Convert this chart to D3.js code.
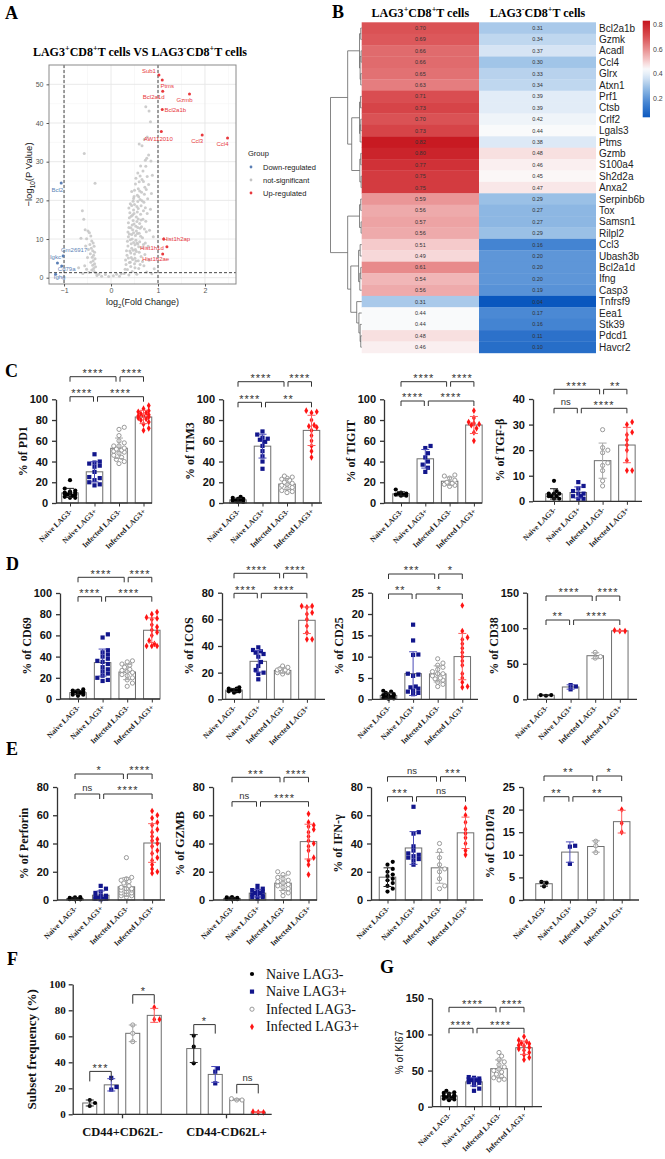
<!DOCTYPE html>
<html>
<head>
<meta charset="utf-8">
<script src="https://cdn.jsdelivr.net/npm/d3@7"></script>
<style>
  body { margin: 0; background: #fff; }
  svg { display: block; }
</style>
</head>
<body>
<svg id="fig" width="665" height="1159"></svg>
<script>
'use strict';

// ---------- data ----------
var groups = ['Naive LAG3-', 'Naive LAG3+', 'Infected LAG3-', 'Infected LAG3+'];

// volcano (log2FC, -log10 p)
var volcanoGray = [
  [-0.61,17.3],[-0.57,32.1],[-0.34,24.4],[-0.58,15.1],[-0.55,12.4],[-0.49,12.1],[-0.46,11.6],[-0.43,10.8],
  [-0.52,10.1],[-0.41,9.5],[-0.38,9.0],[-0.45,8.6],[-0.36,8.1],[-0.42,7.6],[-0.39,7.0],[-0.35,6.6],
  [-0.44,6.2],[-0.37,5.8],[-0.40,5.3],[-0.34,4.9],[-0.38,4.4],[-0.43,4.0],[-0.35,3.6],[-0.39,3.2],
  [-0.33,2.8],[-0.37,2.4],[-0.41,2.0],[-0.36,1.6],[-0.32,1.2],[-0.47,1.4],[-0.52,2.2],[-0.56,3.1],
  [-0.64,10.2],[-0.69,2.6],[-0.50,5.2],[-0.48,7.3],[-0.54,8.2],[-0.60,1.1],[-0.30,0.6],[-0.26,0.9],
  [-0.20,0.4],[-0.12,0.8],[-0.05,0.3],[0.05,0.5],[0.12,0.9],[0.18,0.4],[0.22,1.0],
  [0.28,1.1],[0.30,2.2],[0.32,3.4],[0.31,4.6],[0.34,5.8],[0.33,7.0],[0.36,8.2],[0.35,9.4],[0.37,10.6],
  [0.36,11.8],[0.38,13.0],[0.37,14.2],[0.39,15.5],[0.40,16.8],[0.38,18.0],[0.41,19.1],[0.42,2.9],
  [0.41,4.0],[0.43,5.2],[0.42,6.4],[0.44,7.6],[0.43,8.8],[0.45,10.0],[0.44,11.2],[0.46,12.4],
  [0.45,13.6],[0.47,14.8],[0.46,16.2],[0.48,17.5],[0.47,19.8],[0.49,21.0],[0.50,22.6],[0.52,24.2],
  [0.48,20.5],[0.50,3.6],[0.51,5.0],[0.50,6.1],[0.52,7.3],[0.51,8.5],[0.53,9.7],[0.52,10.9],
  [0.54,12.1],[0.53,13.3],[0.55,14.5],[0.54,15.7],[0.56,17.0],[0.55,18.4],[0.57,19.7],[0.56,21.3],
  [0.58,23.0],[0.60,24.8],[0.62,26.3],[0.59,2.4],[0.58,4.4],[0.60,6.6],[0.59,8.0],[0.61,9.3],
  [0.60,11.5],[0.62,12.8],[0.61,14.0],[0.63,16.4],[0.64,18.6],[0.62,20.2],[0.65,22.1],[0.66,25.4],
  [0.68,27.6],[0.64,5.5],[0.66,7.8],[0.67,10.3],[0.65,13.2],[0.68,15.1],[0.69,17.3],[0.70,19.5],
  [0.71,21.6],[0.72,23.4],[0.74,28.8],[0.76,30.9],[0.70,3.1],[0.72,6.0],[0.73,9.0],[0.75,11.9],
  [0.74,14.6],[0.77,16.6],[0.78,20.4],[0.80,24.1],[0.79,8.1],[0.82,12.3],[0.81,4.5],[0.84,17.7],
  [0.86,21.8],[0.88,26.5],[0.85,30.2],[0.90,10.6],[0.92,2.3],[0.87,1.0],[0.76,1.5],[0.55,0.9],
  [0.45,1.6],[0.38,0.7],[0.60,34.6],[0.66,34.1],[0.71,35.8],[0.77,36.4],[0.74,44.2],[0.81,43.1],
  [0.84,40.3],[0.80,31.7],[0.73,30.4],[0.63,28.9],[0.57,27.1],
  [0.39,3.9],[0.40,6.9],[0.41,9.8],[0.42,12.9],[0.43,15.9],[0.44,18.7],[0.46,4.7],[0.47,7.1],
  [0.48,9.1],[0.48,11.6],[0.49,13.9],[0.49,16.6],[0.50,18.9],[0.51,2.6],[0.53,4.3],[0.54,6.8],
  [0.55,9.0],[0.56,11.4],[0.57,13.0],[0.58,15.2],[0.58,17.9],[0.59,20.9],[0.61,22.4],[0.63,10.7],
  [0.64,14.9],[0.66,19.9],[0.67,4.2],[0.69,8.6],[0.71,12.6],[0.73,18.1],[0.75,22.8],[0.77,26.2],
  [0.35,2.1],[0.37,5.1],[0.39,11.3],[0.44,22.3],[0.53,25.7],[0.57,8.7],[0.62,3.4],[0.69,24.9]
];
var volcanoUp = [
  ['Sub1',1.02,52.4],['Ptms',1.09,51.1],['Bcl2a1d',1.10,48.2],['Gzmb',1.67,47.5],['Bcl2a1b',1.09,43.5],
  ['AW112010',1.07,37.8],['Ccl3',1.94,36.9],['Ccl4',2.48,36.1],['Hist1h2ap',1.12,10.0],
  ['Hist1h1d',1.19,8.0],['Hist1h2ae',1.10,6.1]
];
var volcanoDown = [
  ['Bcl2',-1.06,24.5],['Gm26917',-1.02,5.6],['Igkc',-1.14,3.8],['Cd79a',-1.05,3.0],['Ighg',-1.18,0.9]
];

// heatmap
var genes = ['Bcl2a1b','Gzmk','Acadl','Ccl4','Glrx','Atxn1','Prf1','Ctsb','Crlf2','Lgals3','Ptms','Gzmb',
  'S100a4','Sh2d2a','Anxa2','Serpinb6b','Tox','Samsn1','Rilpl2','Ccl3','Ubash3b','Bcl2a1d','Ifng','Casp3',
  'Tnfrsf9','Eea1','Stk39','Pdcd1','Havcr2'];
var lag3Pos = [0.70,0.69,0.66,0.66,0.65,0.63,0.71,0.73,0.70,0.73,0.82,0.80,0.77,0.75,0.75,0.59,0.56,0.57,
  0.56,0.51,0.49,0.61,0.54,0.56,0.31,0.44,0.44,0.48,0.46];
var lag3Neg = [0.31,0.34,0.37,0.30,0.33,0.34,0.39,0.39,0.42,0.44,0.38,0.48,0.46,0.45,0.47,0.29,0.27,0.27,
  0.29,0.16,0.20,0.20,0.20,0.19,0.04,0.17,0.16,0.11,0.10];
var colorTicks = [0.2, 0.4, 0.6, 0.8];
// dendrogram: [height, left, right], leaves are row indices
var dendro = [1.0,
  [0.45, [0.07, [0.03, 0, 1], [0.05, [0.02, 2, 3], [0.03, 4, 5]]],
         [0.32, [0.07, [0.04, 6, 7], [0.05, [0.03, 8, 9], 10]], [0.06, [0.03, 11, 12], [0.02, 13, 14]]]],
  [0.45, [0.07, [0.03, 15, 16], [0.02, 17, 18]],
         [0.35, [0.1, [0.05, 19, 20], [0.06, [0.03, 21, 22], 23]], [0.16, 24, [0.09, 25, [0.05, 26, [0.03, 27, 28]]]]]]
];

// C
var pd1 = [[22,14,12,11,10,9,9,8,8,7,6,5,5,10],
  [47,40,39,38,36,35,30,25,22,20,18,17,24],
  [73,71,65,60,55,53,52,51,50,49,48,46,44,42,40,38,55,58],
  [94,91,89,88,87,86,85,84,84,83,82,81,80,78,76,72,70]];
var tim3 = [[6,5,4,4,3,3,2,2,2,1,1],
  [69,66,63,62,61,59,55,50,45,40,33],
  [26,25,24,23,22,20,19,18,17,15,14,12,11,10],
  [89,88,87,80,75,74,73,70,65,60,55,50,44]];
var tigit = [[13,10,9,9,8,8,7,7],
  [55,53,48,44,40,37,34,30],
  [27,26,24,22,20,19,18,17,16],
  [89,82,78,77,76,75,72,68,60]];
var tgfb = [[8,4,3,3,2,2,2,1,1,3],
  [7.5,6,5,4,3,3,2,2,1,1],
  [28,21,20,19,15,14,12,8,6],
  [31,30,27,26,24,22,20,16,12,12]];
// D
var cd69 = [[9,8,8,7,7,6,6,5,5,4,4,3],
  [61,58,46,44,42,40,38,36,35,33,30,28,26,24,22,20,18,17],
  [36,35,33,32,30,28,27,26,25,23,22,20,18,15,12],
  [82,80,77,76,75,70,68,65,63,60,55,52,50,50,50]];
var icos = [[9,8,8,7,7,7,6,6,6,5],
  [39,37,36,35,34,32,28,25,22,20,19,15],
  [25,24,23,22,22,21,21,20,20,19],
  [70,70,69,65,64,60,55,50,45,45]];
var cd25 = [[2,1.8,1.5,1.2,1,0.8,0.5,0.3,0.2,0.1,0.5,1],
  [17.5,13.8,10.5,10.4,6,5.8,5.5,3,2.5,2,1.8,1.5,1.2,2.8],
  [9.5,8.5,8,7.5,7,6.5,6,6,5.5,5,4.8,4.5,4,3.5,3],
  [22,16,14.5,14,13,12,11,10,9,8,6,5,4,3,2.8]];
var cd38 = [[6,6,5],[20,18,14],[66,60,58],[97,96,96]];
// E
var perforin = [[1.5,1.2,1,1,0.8,0.6,0.5,0.5,1.8,2,0.7,1.1],
  [10,8,6,5,3,3,2,2,1.5,1,1,1,0.5],
  [30,16,15,14,13,12,10,9,8,8,7,7,6,5,5,4,3,3,2],
  [63,60,58,55,53,50,48,45,43,42,40,38,35,33,30,28,25,22,20,19]];
var gzmb = [[1.5,1.2,1,1,0.8,0.6,0.5,2,1.8,0.7,1.1],
  [10,8,7,7,6,5,5,4,3,3,2,2,1],
  [20,19,18,16,15,14,13,12,11,10,9,8,6,5,3],
  [61,55,53,52,50,48,45,42,40,38,35,30,28,25,18]];
var ifng = [[27,25,22,20,18,17,15,14,12,10,8,6],
  [66,48,47,38,35,33,32,31,30,29,28,25],
  [40,35,30,25,22,20,15,10,8],
  [65,60,55,50,47,44,40,35,32]];
var cd107a = [[4,3.8,3],[12,11.8,8],[13,12,10.5],[20,17,15]];
// F
var subsets = ['CD44+CD62L-', 'CD44-CD62L+'];
var subsetEff = [[11,8.7,6.4],[28,21,19],[68.7,62.3,55.9],[82.3,73,73]];
var subsetNaive = [[60.5,52,39.2],[35.4,32.8,23.8],[12,11,11],[2,1.5,1.5]];
// G
var ki67 = [[22,20,19,18,16,15,15,14,13,12,11,10,9],
  [41,40,39,38,37,37,36,35,34,33,30,25,22],
  [75,70,65,62,58,55,52,50,48,45,42,40,38,37],
  [97,92,90,88,87,85,84,82,80,78,75,72,68,65]];

// significance: [1-2, 2-4, 1-3, 3-4]
var sigPD1 = ['****','****','****','****'], sigTIM3 = ['****','**','****','****'];
var sigTIGIT = ['****','****','****','****'], sigTGFB = ['ns','****','****','**'];
var sigCD69 = ['****','****','****','****'], sigICOS = ['****','****','****','****'];
var sigCD25 = ['**','*','***','*'], sigCD38 = ['**','****','****','****'];
var sigPerforin = ['ns','****','*','****'], sigGZMB = ['ns','****','***','****'];
var sigIFNG = ['***','ns','ns','***'], sigCD107a = ['**','**','**','*'];
var sigKI67 = ['****','****','****','****'];
var sigF = ['***','*','*','ns'];

// ---------- drawing ----------
var svg = d3.select('#fig');
var SANS = 'Liberation Sans, Arial, sans-serif';
var SERIF = 'Liberation Serif, Times New Roman, serif';
var groupColor = ['#000000', '#12168c', '#8f8f8f', '#ff1414'];
var errColor = ['#222222', '#4a4ab8', '#a8a8a8', '#ff5a5a'];

function rich(sel, parts, size) {
  var shift = 0;
  parts.forEach(function (p) {
    var t = sel.append('tspan').text(p[0]);
    var target = p[1] === 'sup' ? -size * 0.38 : (p[1] === 'sub' ? size * 0.28 : 0);
    t.attr('dy', target - shift);
    if (p[1]) t.attr('font-size', size * 0.68);
    shift = target;
  });
}

function letter(x, y, s) {
  svg.append('text').attr('x', x).attr('y', y).text(s)
    .attr('font-family', SERIF).attr('font-weight', 'bold').attr('font-size', 18);
}

// ----- panel A: volcano -----
(function () {
  var L = 49, R = 236, T = 65, B = 284;
  var x = d3.scaleLinear().domain([-1.32, 2.66]).range([L, R]);
  var y = d3.scaleLinear().domain([-1.63, 55]).range([B, T]);
  var g = svg.append('g');
  var minorX = [-1.5, -0.5, 0.5, 1.5, 2.5], minorY = [5, 15, 25, 35, 45, 55];
  var majorX = [-1, 0, 1, 2], majorY = [0, 10, 20, 30, 40, 50];
  g.selectAll('.vx').data(minorX.filter(function (v) { return x(v) > L && x(v) < R; })).enter()
    .append('line').attr('x1', x).attr('x2', x).attr('y1', T).attr('y2', B)
    .attr('stroke', '#f3f3f3').attr('stroke-width', 0.6);
  g.selectAll('.vy').data(minorY.filter(function (v) { return y(v) > T; })).enter()
    .append('line').attr('y1', y).attr('y2', y).attr('x1', L).attr('x2', R)
    .attr('stroke', '#f3f3f3').attr('stroke-width', 0.6);
  g.selectAll('.mx').data(majorX).enter().append('line')
    .attr('x1', x).attr('x2', x).attr('y1', T).attr('y2', B).attr('stroke', '#e6e6e6').attr('stroke-width', 0.9);
  g.selectAll('.my').data(majorY).enter().append('line')
    .attr('y1', y).attr('y2', y).attr('x1', L).attr('x2', R).attr('stroke', '#e6e6e6').attr('stroke-width', 0.9);

  g.selectAll('.gp').data(volcanoGray).enter().append('circle')
    .attr('cx', function (d) { return x(d[0]); }).attr('cy', function (d) { return y(d[1]); })
    .attr('r', 1.5).attr('fill', '#c4c4c4').attr('opacity', 0.85);

  [-1, 1].forEach(function (v) {
    g.append('line').attr('x1', x(v)).attr('x2', x(v)).attr('y1', T).attr('y2', B)
      .attr('stroke', '#333').attr('stroke-width', 0.9).attr('stroke-dasharray', '3,2');
  });
  g.append('line').attr('x1', L).attr('x2', R).attr('y1', y(1.3)).attr('y2', y(1.3))
    .attr('stroke', '#333').attr('stroke-width', 0.9).attr('stroke-dasharray', '3,2');

  g.selectAll('.up').data(volcanoUp).enter().append('circle')
    .attr('cx', function (d) { return x(d[1]); }).attr('cy', function (d) { return y(d[2]); })
    .attr('r', 1.5).attr('fill', '#e8383d');
  g.selectAll('.dn').data(volcanoDown).enter().append('circle')
    .attr('cx', function (d) { return x(d[1]); }).attr('cy', function (d) { return y(d[2]); })
    .attr('r', 1.5).attr('fill', '#5b7fb5');

  // label offsets in px, in the order of the label arrays
  var upOff = [[-10,-2],[5,8],[-9,8],[-5,8],[13,3],[-3,9],[-5,8],[-5,8],[13,2],[-15,3],[-7,7]];
  var dnOff = [[-4,9],[11,-4],[-2,-4],[5,5],[4,5]];
  g.selectAll('.ul').data(volcanoUp).enter().append('text')
    .attr('x', function (d, i) { return x(d[1]) + upOff[i][0]; })
    .attr('y', function (d, i) { return y(d[2]) + upOff[i][1]; })
    .attr('text-anchor', 'middle').attr('font-family', SANS).attr('font-size', 6)
    .attr('fill', '#e8383d').text(function (d) { return d[0]; });
  g.selectAll('.dl').data(volcanoDown).enter().append('text')
    .attr('x', function (d, i) { return x(d[1]) + dnOff[i][0]; })
    .attr('y', function (d, i) { return y(d[2]) + dnOff[i][1]; })
    .attr('text-anchor', 'middle').attr('font-family', SANS).attr('font-size', 6)
    .attr('fill', '#5b7fb5').text(function (d) { return d[0]; });

  g.append('rect').attr('x', L).attr('y', T).attr('width', R - L).attr('height', B - T)
    .attr('fill', 'none').attr('stroke', '#8a8a8a').attr('stroke-width', 1);

  var ax = g.append('g').attr('transform', 'translate(' + L + ',0)')
    .call(d3.axisLeft(y).tickValues(majorY).tickSize(2.5).tickFormat(d3.format('d')));
  var bx = g.append('g').attr('transform', 'translate(0,' + B + ')')
    .call(d3.axisBottom(x).tickValues(majorX).tickSize(2.5).tickPadding(1.5).tickFormat(d3.format('d')));
  [ax, bx].forEach(function (a) {
    a.select('.domain').remove();
    a.selectAll('line').attr('stroke', '#555');
    a.selectAll('text').attr('font-family', SANS).attr('font-size', 7).attr('fill', '#555');
  });

  var yl = g.append('text').attr('transform', 'translate(32,' + ((T + B) / 2) + ') rotate(-90)')
    .attr('text-anchor', 'middle').attr('font-family', SANS).attr('font-size', 9.5).attr('fill', '#222');
  rich(yl, [['\u2212log', ''], ['10', 'sub'], ['(P Value)', '']], 9.5);
  var xl = g.append('text').attr('x', (L + R) / 2).attr('y', 305)
    .attr('text-anchor', 'middle').attr('font-family', SANS).attr('font-size', 9).attr('fill', '#222');
  rich(xl, [['log', ''], ['2', 'sub'], ['(Fold Change)', '']], 9);

  var tl = g.append('text').attr('x', 140).attr('y', 56).attr('text-anchor', 'middle')
    .attr('font-family', SERIF).attr('font-weight', 'bold').attr('font-size', 12);
  rich(tl, [['LAG3', ''], ['+', 'sup'], ['CD8', ''], ['+', 'sup'], ['T cells VS LAG3', ''], ['-', 'sup'],
    ['CD8', ''], ['+', 'sup'], ['T cells', '']], 12);

  var lg = g.append('g');
  lg.append('text').attr('x', 248).attr('y', 156).text('Group')
    .attr('font-family', SANS).attr('font-size', 7.5).attr('fill', '#222');
  var legendItems = ['Down-regulated', 'not-significant', 'Up-regulated'];
  var legendCols = ['#5b7fb5', '#c4c4c4', '#e8383d'];
  lg.selectAll('.li').data(legendItems).enter().append('circle')
    .attr('cx', 251).attr('cy', function (d, i) { return 167 + i * 13; }).attr('r', 1.4)
    .attr('fill', function (d, i) { return legendCols[i]; });
  lg.selectAll('.lt').data(legendItems).enter().append('text')
    .attr('x', 263).attr('y', function (d, i) { return 170 + i * 13; }).text(function (d) { return d; })
    .attr('font-family', SANS).attr('font-size', 7.5).attr('fill', '#222');
})();

// ----- panel B: heatmap -----
(function () {
  var L = 361.7, M = 479, R = 596, T = 22.3, H = 11.4;
  var y = d3.scaleBand().domain(d3.range(genes.length)).range([T, T + H * genes.length]);
  var color = d3.scaleLinear()
    .domain([0.04, 0.16, 0.29, 0.38, 0.445, 0.5, 0.6, 0.7, 0.84])
    .range(['#0a57be', '#4484d2', '#9ac0e6', '#dde9f6', '#fbfbfb', '#f6d0d1', '#e99091', '#da5255', '#c5111a']);
  var g = svg.append('g');
  [lag3Pos, lag3Neg].forEach(function (col, c) {
    var x0 = c === 0 ? L : M, w = c === 0 ? M - L : R - M;
    g.selectAll('.c' + c).data(col).enter().append('rect')
      .attr('x', x0).attr('y', function (d, i) { return y(i); })
      .attr('width', w).attr('height', y.bandwidth() + 0.3)
      .attr('fill', function (d) { return color(d); });
    g.selectAll('.t' + c).data(col).enter().append('text')
      .attr('x', x0 + w / 2).attr('y', function (d, i) { return y(i) + H / 2 + 2; })
      .attr('text-anchor', 'middle').attr('font-family', SANS).attr('font-size', 5.5).attr('fill', '#333')
      .text(function (d) { return d.toFixed(2); });
  });
  g.selectAll('.gn').data(genes).enter().append('text')
    .attr('x', R + 3).attr('y', function (d, i) { return y(i) + H / 2 + 3.6; })
    .attr('font-family', SANS).attr('font-size', 10).attr('fill', '#222').text(function (d) { return d; });

  [[(L + M) / 2, '+'], [(M + R) / 2, '-']].forEach(function (h) {
    var t = g.append('text').attr('x', h[0]).attr('y', 17).attr('text-anchor', 'middle')
      .attr('font-family', SERIF).attr('font-weight', 'bold').attr('font-size', 12);
    rich(t, [['LAG3', ''], [h[1], 'sup'], ['CD8', ''], ['+', 'sup'], ['T cells', '']], 12);
  });

  // dendrogram
  var dx = d3.scaleLinear().domain([0, 1]).range([L, 330.5]);
  function layout(node) {
    if (typeof node === 'number') return { y: y(node) + H / 2, h: 0 };
    var a = layout(node[1]), b = layout(node[2]);
    var x = dx(node[0]);
    g.append('path').attr('d', 'M' + dx(a.h) + ',' + a.y + 'H' + x + 'V' + b.y + 'H' + dx(b.h))
      .attr('fill', 'none').attr('stroke', '#666').attr('stroke-width', 0.8);
    return { y: (a.y + b.y) / 2, h: node[0] };
  }
  layout(dendro);

  // colour bar
  var cb = d3.scaleLinear().domain([0.044, 0.835]).range([117.3, 20.7]);
  var grad = svg.append('defs').append('linearGradient').attr('id', 'hmgrad')
    .attr('x1', 0).attr('y1', 1).attr('x2', 0).attr('y2', 0);
  d3.range(0, 1.0001, 0.05).forEach(function (t) {
    var v = 0.044 + t * (0.835 - 0.044);
    grad.append('stop').attr('offset', t).attr('stop-color', color(v));
  });
  g.append('rect').attr('x', 642.7).attr('y', 20.7).attr('width', 7.3).attr('height', 96.6)
    .attr('fill', 'url(#hmgrad)');
  g.selectAll('.cbt').data(colorTicks).enter().append('text')
    .attr('x', 653).attr('y', function (d) { return cb(d) + 2.5; })
    .attr('font-family', SANS).attr('font-size', 7).attr('fill', '#444').text(function (d) { return d; });
})();

// ----- scatter-bar plots -----
function swarm(vals, y, cx, r, maxW) {
  var placed = [];
  return vals.slice().sort(d3.ascending).map(function (v) {
    var py = y(v), off = 0, best = null, bestOv = Infinity;
    for (var k = 0; k < 15; k++) {
      off = (k % 2 ? 1 : -1) * Math.ceil(k / 2) * r * 1.25;
      if (Math.abs(off) > maxW) break;
      var ov = 0;
      placed.forEach(function (p) {
        var d = Math.hypot(p.x - (cx + off), p.y - py);
        if (d < r * 2) ov += r * 2 - d;
      });
      if (ov === 0) { best = off; break; }
      if (ov < bestOv) { bestOv = ov; best = off; }
    }
    var pt = { v: v, x: cx + best, y: py };
    placed.push(pt);
    return pt;
  });
}

function drawMarker(g, gi, x, y) {
  if (gi === 0) {
    g.append('circle').attr('cx', x).attr('cy', y).attr('r', 2.1).attr('fill', groupColor[0]);
  } else if (gi === 1) {
    g.append('rect').attr('x', x - 2.1).attr('y', y - 2.1).attr('width', 4.2).attr('height', 4.2)
      .attr('fill', groupColor[1]);
  } else if (gi === 2) {
    g.append('circle').attr('cx', x).attr('cy', y).attr('r', 2.1).attr('fill', '#fff')
      .attr('stroke', groupColor[2]).attr('stroke-width', 0.9);
  } else {
    g.append('path').attr('transform', 'translate(' + x + ',' + y + ')')
      .attr('d', d3.symbol(d3.symbolDiamond, 13)()).attr('fill', groupColor[3]);
  }
}

function barsAndPoints(g, data, xs, y, bw) {
  data.forEach(function (vals, gi) {
    var m = d3.mean(vals), sd = vals.length > 1 ? d3.deviation(vals) : 0, cx = xs[gi];
    g.append('rect').attr('x', cx - bw / 2).attr('y', y(m)).attr('width', bw).attr('height', y(0) - y(m))
      .attr('fill', '#fff').attr('stroke', '#6e6e6e').attr('stroke-width', 1);
    swarm(vals, y, cx, 2.1, bw / 2 - 1).forEach(function (p) { drawMarker(g, gi, p.x, p.y); });
    var top = y(m + sd), bot = y(Math.max(m - sd, 0));
    g.append('path').attr('d', 'M' + cx + ',' + top + 'V' + bot + 'M' + (cx - 4) + ',' + top + 'H' + (cx + 4) +
      'M' + (cx - 4) + ',' + bot + 'H' + (cx + 4))
      .attr('stroke', errColor[gi]).attr('stroke-width', 1).attr('fill', 'none');
  });
}

function bracket(g, x1, x2, yy, arm, label) {
  g.append('path').attr('d', 'M' + x1 + ',' + (yy + arm) + 'V' + yy + 'H' + x2 + 'V' + (yy + arm))
    .attr('fill', 'none').attr('stroke', '#333').attr('stroke-width', 1);
  var ns = label === 'ns';
  g.append('text').attr('x', (x1 + x2) / 2).attr('y', ns ? yy - 3.2 : yy + 0.2)
    .attr('text-anchor', 'middle').attr('font-family', SANS).attr('font-size', ns ? 9.5 : 11)
    .attr('letter-spacing', ns ? 0 : 1).attr('fill', '#333').text(label);
}

function scatterPlot(cfg) {
  var g = svg.append('g');
  var y = d3.scaleLinear().domain([0, cfg.max]).range([cfg.y0, cfg.yTop]);
  var x = d3.scalePoint().domain(groups).range([cfg.c0, cfg.c0 + 3 * cfg.step]);
  var xs = groups.map(function (d) { return x(d); });
  barsAndPoints(g, cfg.data, xs, y, cfg.bw || 16.5);

  var ya = g.append('g').attr('transform', 'translate(' + cfg.ax + ',0)')
    .call(d3.axisLeft(y).tickValues(d3.range(0, cfg.max + 0.001, cfg.tick)).tickSize(4).tickSizeOuter(0));
  ya.select('.domain').attr('stroke', '#333').attr('stroke-width', 1.3);
  ya.selectAll('line').attr('stroke', '#333').attr('stroke-width', 1.3);
  ya.selectAll('text').attr('font-family', cfg.tickFont || SANS).attr('font-weight', 'bold')
    .attr('font-size', 11).attr('fill', '#111').attr('dx', -1);

  var xa = g.append('g').attr('transform', 'translate(0,' + cfg.y0 + ')')
    .call(d3.axisBottom(x).tickSize(3.5).tickSizeOuter(0));
  xa.select('.domain').attr('d', 'M' + cfg.ax + ',0H' + cfg.xEnd).attr('stroke', '#333').attr('stroke-width', 1.3);
  xa.selectAll('line').attr('stroke', '#333').attr('stroke-width', 1);
  xa.selectAll('text').attr('font-family', SERIF).attr('font-weight', 'bold').attr('font-size', 7.6)
    .attr('fill', '#222').attr('text-anchor', 'end').attr('dy', null)
    .attr('transform', 'translate(2,9) rotate(-45)').attr('y', 0).attr('x', 0);

  g.append('text').attr('transform', 'translate(' + (cfg.ax - 29) + ',' + ((cfg.y0 + cfg.yTop) / 2) + ') rotate(-90)')
    .attr('text-anchor', 'middle').attr('font-family', cfg.labelFont || SERIF)
    .attr('font-weight', cfg.labelFont ? 'normal' : 'bold').attr('font-size', cfg.labelFont ? 10 : 12)
    .attr('fill', '#111').text(cfg.label);

  var s = cfg.sig, arm = 5;
  bracket(g, xs[0], xs[1] - 1, cfg.low, arm, s[0]);
  bracket(g, xs[1] + 3, xs[3], cfg.low, arm, s[1]);
  bracket(g, xs[0], xs[2] - 3, cfg.up, arm, s[2]);
  bracket(g, xs[2] + 1, xs[3], cfg.up, arm, s[3]);
}

letter(5, 19, 'A');
letter(332, 18, 'B');
letter(5, 377, 'C');
letter(6, 570, 'D');
letter(6, 755, 'E');
letter(7, 965, 'F');
letter(380, 973, 'G');

var plots = [
  { data: pd1, sig: sigPD1, label: '% of PD1', max: 100, tick: 20, ax: 56, y0: 503, yTop: 399.3, c0: 70, step: 24.5, xEnd: 152, low: 396.7, up: 376.7 },
  { data: tim3, sig: sigTIM3, label: '% of TIM3', max: 100, tick: 20, ax: 223, y0: 503, yTop: 399.3, c0: 238, step: 24.5, xEnd: 322, low: 402.3, up: 381.7 },
  { data: tigit, sig: sigTIGIT, label: '% of TIGIT', max: 100, tick: 20, ax: 384, y0: 503, yTop: 399.3, c0: 401, step: 24.3, xEnd: 482, low: 401, up: 381.7 },
  { data: tgfb, sig: sigTGFB, label: '% of TGF-\u03b2', max: 40, tick: 10, ax: 533, y0: 501.3, yTop: 399, c0: 554, step: 24.3, xEnd: 642, low: 408.3, up: 389.3 },
  { data: cd69, sig: sigCD69, label: '% of CD69', max: 100, tick: 20, ax: 60, y0: 699, yTop: 593, c0: 78, step: 24.6, xEnd: 160, low: 596.7, up: 577.3 },
  { data: icos, sig: sigICOS, label: '% of ICOS', max: 80, tick: 20, ax: 222, y0: 699.3, yTop: 592.7, c0: 234, step: 24.3, xEnd: 325, low: 593.3, up: 573.3 },
  { data: cd25, sig: sigCD25, label: '% of CD25', max: 25, tick: 5, ax: 372, y0: 699.3, yTop: 592.7, c0: 388.5, step: 24.6, xEnd: 478, low: 594, up: 574 },
  { data: cd38, sig: sigCD38, label: '% of CD38', max: 150, tick: 50, ax: 527, y0: 699.3, yTop: 592.7, c0: 546, step: 24.6, xEnd: 637, low: 620, up: 596 },
  { data: perforin, sig: sigPerforin, label: '% of Perforin', max: 80, tick: 20, ax: 57, y0: 900, yTop: 787, c0: 75, step: 25.7, xEnd: 165, low: 794, up: 774 },
  { data: gzmb, sig: sigGZMB, label: '% of GZMB', max: 80, tick: 20, ax: 213, y0: 900, yTop: 787, c0: 232, step: 25.5, xEnd: 317, low: 801.7, up: 777.3 },
  { data: ifng, sig: sigIFNG, label: '% of IFN-\u03b3', max: 80, tick: 20, ax: 371, y0: 900, yTop: 787, c0: 387.5, step: 26, xEnd: 483, low: 796.7, up: 776.7 },
  { data: cd107a, sig: sigCD107a, label: '% of CD107a', max: 25, tick: 5, ax: 523, y0: 900, yTop: 787, c0: 544, step: 25.9, xEnd: 639, low: 796.7, up: 776 },
  { data: ki67, sig: sigKI67, label: '% of KI67', labelFont: SANS, max: 150, tick: 50, ax: 432, y0: 1106.7, yTop: 998.3, c0: 449, step: 25, xEnd: 542, low: 1028.3, up: 1007.3 }
];
plots.forEach(scatterPlot);

// ----- panel F -----
(function () {
  var ax = 72.7, y0 = 1114.3, yTop = 984.3, xEnd = 271.7, step = 21.5, bw = 14;
  var g = svg.append('g');
  var y = d3.scaleLinear().domain([0, 100]).range([y0, yTop]);
  var gx = d3.scalePoint().domain(subsets).range([122, 226]);
  [subsetEff, subsetNaive].forEach(function (set, si) {
    var cx = gx(subsets[si]);
    var xs = groups.map(function (d, i) { return cx + (i - 1.5) * step; });
    barsAndPoints(g, set, xs, y, bw);
  });
  var ya = g.append('g').attr('transform', 'translate(' + ax + ',0)')
    .call(d3.axisLeft(y).tickValues(d3.range(0, 101, 20)).tickSize(4).tickSizeOuter(0));
  ya.select('.domain').attr('stroke', '#333').attr('stroke-width', 1.3);
  ya.selectAll('line').attr('stroke', '#333').attr('stroke-width', 1.3);
  ya.selectAll('text').attr('font-family', SERIF).attr('font-weight', 'bold').attr('font-size', 11).attr('fill', '#111');
  var xa = g.append('g').attr('transform', 'translate(0,' + y0 + ')')
    .call(d3.axisBottom(gx).tickSize(4).tickSizeOuter(0));
  xa.select('.domain').attr('d', 'M' + ax + ',0H' + xEnd).attr('stroke', '#333').attr('stroke-width', 1.3);
  xa.selectAll('line').attr('stroke', '#333').attr('stroke-width', 1.3);
  xa.selectAll('text').attr('font-family', SERIF).attr('font-weight', 'bold').attr('font-size', 12.5)
    .attr('fill', '#111').attr('dy', '1.2em');
  g.append('text').attr('transform', 'translate(36,' + ((y0 + yTop) / 2) + ') rotate(-90)')
    .attr('text-anchor', 'middle').attr('font-family', SERIF).attr('font-weight', 'bold').attr('font-size', 13)
    .attr('fill', '#111').text('Subset frequency (%)');

  var c1 = gx(subsets[0]), c2 = gx(subsets[1]);
  bracket(g, c1 - 1.5 * step, c1 - 0.5 * step, y(33), 10, sigF[0]);
  bracket(g, c1 + 0.5 * step, c1 + 1.5 * step, y(92), 9, sigF[1]);
  bracket(g, c2 - 1.5 * step, c2 - 0.5 * step, y(69), 9, sigF[2]);
  bracket(g, c2 + 0.5 * step, c2 + 1.5 * step, y(23), 9, sigF[3]);

  var lg = g.append('g');
  groups.forEach(function (name, i) {
    var ly = 974 + i * 17.6;
    drawMarker(lg, i, 252, ly);
    lg.append('text').attr('x', 266).attr('y', ly + 4.5).text(name)
      .attr('font-family', SERIF).attr('font-size', 14).attr('fill', '#111');
  });
})();
</script>
</body>
</html>
